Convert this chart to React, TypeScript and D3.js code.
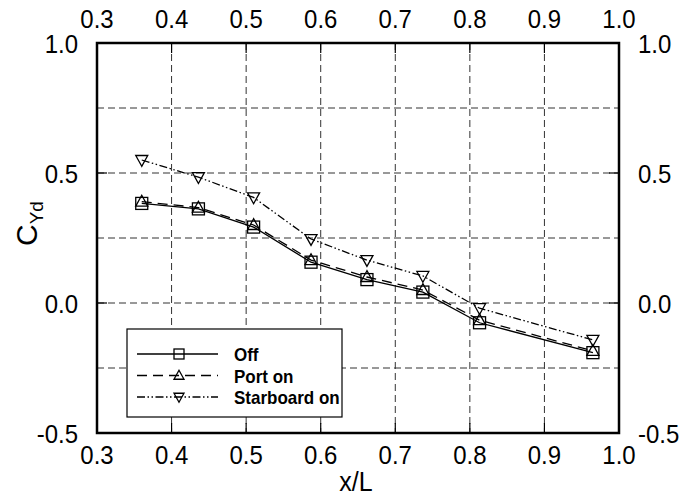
import React from "react";
import * as d3 from "d3";

const xPos = [0.36, 0.436, 0.51, 0.587, 0.662, 0.737, 0.813, 0.965];
const offVals = [0.383, 0.362, 0.292, 0.157, 0.09, 0.042, -0.076, -0.191];
const portVals = [0.39, 0.367, 0.3, 0.165, 0.1, 0.05, -0.066, -0.184];
const starVals = [0.55, 0.484, 0.406, 0.246, 0.165, 0.104, -0.02, -0.142];
const xTicks = [0.3, 0.4, 0.5, 0.6, 0.7, 0.8, 0.9, 1.0];
const yTicks = [-0.5, 0, 0.5, 1.0];
const yGrid = [-0.25, 0, 0.25, 0.5, 0.75];
const xGrid = [0.4, 0.5, 0.6, 0.7, 0.8, 0.9];
const seriesNames = ["Off", "Port on", "Starboard on"];

const W = 681, H = 497;
const L = 97, R = 619, T = 43, B = 433;
const FONT = "'Liberation Sans', Arial, sans-serif";
const SY = 1.1;

function SText({ x, y, size, anchor = "middle", weight = "normal", children }: any) {
  return (
    <g transform={`translate(${x},${y}) scale(1,${SY})`}>
      <text x={0} y={0} fontSize={size} fontFamily={FONT} fontWeight={weight} textAnchor={anchor} fill="#000">
        {children}
      </text>
    </g>
  );
}

function marker(kind: string, cx: number, cy: number, s: number, key?: any) {
  const h = s / 2;
  if (kind === "square") {
    return <rect key={key} x={cx - h} y={cy - h} width={s} height={s} fill="none" stroke="#000" strokeWidth={1.3} />;
  }
  if (kind === "up") {
    const p = `${cx},${cy - h * 1.05} ${cx - h},${cy + h * 0.75} ${cx + h},${cy + h * 0.75}`;
    return <polygon key={key} points={p} fill="none" stroke="#000" strokeWidth={1.3} />;
  }
  const p = `${cx},${cy + h * 1.05} ${cx - h},${cy - h * 0.75} ${cx + h},${cy - h * 0.75}`;
  return <polygon key={key} points={p} fill="none" stroke="#000" strokeWidth={1.3} />;
}

export default function App() {
  const x = d3.scaleLinear().domain([0.3, 1.0]).range([L, R]);
  const y = d3.scaleLinear().domain([-0.5, 1.0]).range([B, T]);
  const line = d3
    .line<number>()
    .x((_, i) => x(xPos[i]))
    .y((d) => y(d));

  const series = [
    { name: seriesNames[0], vals: offVals, dash: undefined, kind: "square" },
    { name: seriesNames[1], vals: portVals, dash: "10,6", kind: "up" },
    { name: seriesNames[2], vals: starVals, dash: "8,2.5,1.5,2.5,1.5,2.5", kind: "down" },
  ];

  const legX0 = 137, legX1 = 218, legM = 179;
  const legRows = [354, 375.5, 397];
  const legTextBase = [361, 383, 404];

  return (
    <svg width={W} height={H} style={{ position: "absolute", left: 0, top: 0, background: "#fff" }}>
      <rect x={0} y={0} width={W} height={H} fill="#fff" />
      {/* grid */}
      {xGrid.map((v) => (
        <line key={"gx" + v} x1={x(v)} x2={x(v)} y1={T} y2={B} stroke="#333" strokeWidth={1} strokeDasharray="7,4" />
      ))}
      {yGrid.map((v) => (
        <line key={"gy" + v} x1={L} x2={R} y1={y(v)} y2={y(v)} stroke="#333" strokeWidth={1} strokeDasharray="7,4" />
      ))}
      {/* ticks */}
      {xTicks.map((v) => (
        <g key={"xt" + v}>
          <line x1={x(v)} x2={x(v)} y1={B} y2={B - 10} stroke="#000" strokeWidth={1.2} />
          <line x1={x(v)} x2={x(v)} y1={T} y2={T + 10} stroke="#000" strokeWidth={1.2} />
          <SText x={x(v)} y={B + 31} size={24}>{v.toFixed(1)}</SText>
          <SText x={x(v)} y={T - 15} size={24}>{v.toFixed(1)}</SText>
        </g>
      ))}
      {yTicks.map((v) => (
        <g key={"yt" + v}>
          <line x1={L} x2={L + 10} y1={y(v)} y2={y(v)} stroke="#000" strokeWidth={1.2} />
          <line x1={R} x2={R - 10} y1={y(v)} y2={y(v)} stroke="#000" strokeWidth={1.2} />
          <SText x={L - 19} y={y(v) + 9.5} size={24} anchor="end">{v.toFixed(1)}</SText>
          <SText x={R + 19} y={y(v) + 9.5} size={24} anchor="start">{v.toFixed(1)}</SText>
        </g>
      ))}
      {/* series */}
      {series.map((s) => (
        <g key={s.name}>
          <path d={line(s.vals) || ""} fill="none" stroke="#000" strokeWidth={1.3} strokeDasharray={s.dash} />
          {s.vals.map((v, i) => marker(s.kind, x(xPos[i]), y(v), 12, i))}
        </g>
      ))}
      {/* legend */}
      <rect x={127} y={329} width={215} height={88} fill="#fff" stroke="#000" strokeWidth={1.2} />
      {series.map((s, i) => (
        <g key={"leg" + i}>
          <line x1={legX0} x2={legX1} y1={legRows[i]} y2={legRows[i]} stroke="#000" strokeWidth={1.3} strokeDasharray={s.dash} />
          {marker(s.kind, legM, legRows[i], 10)}
          <SText x={234} y={legTextBase[i]} size={17} anchor="start" weight="bold">{s.name}</SText>
        </g>
      ))}
      {/* frame */}
      <rect x={L} y={T} width={R - L} height={B - T} fill="none" stroke="#000" strokeWidth={2.5} />
      {/* axis labels */}
      <SText x={356} y={491} size={25}>x/L</SText>
      <g transform="translate(37,246) rotate(-90)">
        <text x={0} y={0} fontFamily={FONT} fontSize={30} fill="#000">
          C<tspan fontSize={19} dy={6}>Yd</tspan>
        </text>
      </g>
    </svg>
  );
}
